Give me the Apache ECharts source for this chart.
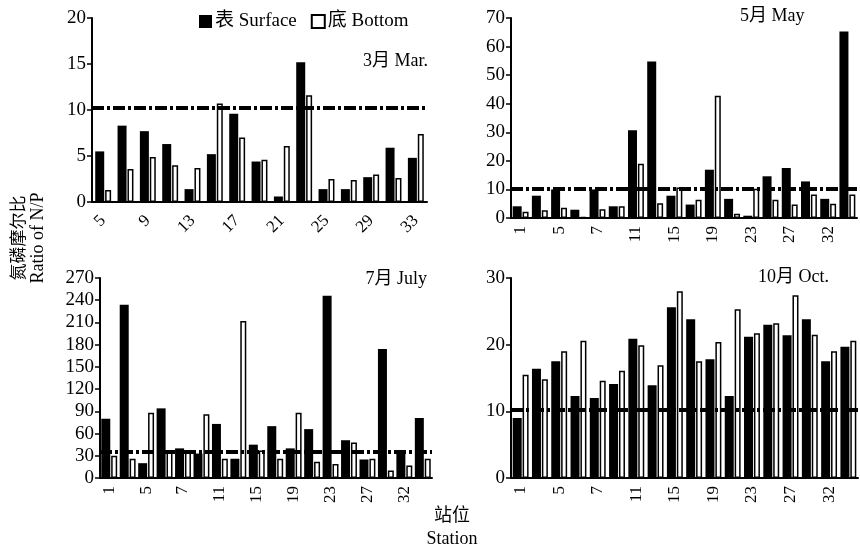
<!DOCTYPE html>
<html>
<head>
<meta charset="utf-8">
<script src="https://cdn.jsdelivr.net/npm/echarts@6/dist/echarts.min.js"></script>
<style>
  html, body { margin: 0; padding: 0; background: #fff; }
  #chart { width: 860px; height: 550px; }
</style>
</head>
<body>
<div id="chart"></div>
<script>
// station labels
const marStations = ['5', '7', '9', '11', '13', '15', '17', '19', '21', '23', '25', '27', '29', '31', '33'];
const stations = ['1', '3', '5', '6', '7', '9', '11', '13', '15', '17', '19', '21', '23', '25', '27', '29', '32', '33'];

// N/P ratio, surface and bottom
const marSurface = [5.5, 8.3, 7.7, 6.3, 1.4, 5.2, 9.6, 4.4, 0.6, 15.2, 1.4, 1.4, 2.7, 5.9, 4.8];
const marBottom = [1.3, 3.6, 4.9, 4.0, 3.7, 10.7, 7.0, 4.6, 6.1, 11.6, 2.5, 2.4, 3.0, 2.6, 7.4];
const maySurface = [4.1, 7.8, 10, 2.9, 10, 4.1, 30.7, 54.8, 7.8, 4.7, 16.9, 6.7, 0.8, 14.6, 17.5, 12.8, 6.7, 65.3];
const mayBottom = [2.2, 2.7, 3.6, 0.3, 3.1, 4.1, 19, 5.2, 10.7, 6.4, 42.8, 1.5, 10.2, 6.4, 4.7, 8.2, 5.0, 8.2];
const julSurface = [80, 234, 20, 94, 40, 33, 73, 26, 45, 70, 40, 66, 246, 51, 25, 174, 36, 81];
const julBottom = [30, 26, 88, 37, 36, 86, 26, 212, 37, 26, 88, 22, 19, 48, 26, 10, 17, 26];
const octSurface = [9.0, 16.4, 17.5, 12.3, 12.0, 14.1, 20.9, 13.9, 25.6, 23.8, 17.8, 12.3, 21.2, 23.0, 21.4, 23.8, 17.5, 19.7];
const octBottom = [15.5, 14.8, 19.0, 20.6, 14.6, 16.1, 19.9, 16.9, 28.0, 17.5, 20.4, 25.3, 21.7, 23.2, 27.4, 21.5, 19.0, 20.6];

// reference lines
const refLines = [10.2, 10.2, 35, 10.2];

const FONT = "'Liberation Serif', 'Noto Sans CJK SC', serif";

const chart = echarts.init(document.getElementById('chart'));

const grids = [
  { left: 92, top: 18, width: 335, height: 184 },
  { left: 511, top: 18, width: 346, height: 200 },
  { left: 100, top: 278, width: 332, height: 200 },
  { left: 511, top: 278, width: 347, height: 200 },
];

const yRanges = [
  { max: 20, interval: 5 },
  { max: 70, interval: 10 },
  { max: 270, interval: 30 },
  { max: 30, interval: 10 },
];

const xAxis = [marStations, stations, stations, stations].map((cats, i) => ({
  type: 'category',
  gridIndex: i,
  data: cats,
  axisLine: { lineStyle: { color: '#000', width: 2 } },
  axisTick: { inside: true, length: 5, interval: 0, lineStyle: { color: '#000', width: 1.5 } },
  axisLabel: {
    interval: 1,
    rotate: i === 0 ? 45 : 90,
    margin: i === 0 ? 16 : 8,
    color: '#000',
    fontFamily: FONT,
    fontSize: 17,
  },
}));

const yAxis = yRanges.map((r, i) => ({
  type: 'value',
  gridIndex: i,
  min: 0,
  max: r.max,
  interval: r.interval,
  splitLine: { show: false },
  axisLine: { show: true, lineStyle: { color: '#000', width: 2 } },
  axisTick: { show: true, length: 5, lineStyle: { color: '#000', width: 1.5 } },
  axisLabel: { color: '#000', fontFamily: FONT, fontSize: 19, margin: 6 },
}));

const surfaceData = [marSurface, maySurface, julSurface, octSurface];
const bottomData = [marBottom, mayBottom, julBottom, octBottom];

let series = [];
for (let i = 0; i < 4; i++) {
  series.push({
    name: '表 Surface',
    type: 'bar',
    xAxisIndex: i,
    yAxisIndex: i,
    data: surfaceData[i],
    barWidth: 9,
    barGap: '10%',
    itemStyle: { color: '#000' },
    markLine: {
      silent: true,
      symbol: 'none',
      label: { show: false },
      lineStyle: { color: '#000', width: 4, type: [12, 3, 3, 3] },
      data: [{ yAxis: refLines[i] }],
    },
  });
  series.push({
    name: '底 Bottom',
    type: 'bar',
    xAxisIndex: i,
    yAxisIndex: i,
    data: bottomData[i],
    barWidth: 6,
    itemStyle: { color: '#fff', borderColor: '#000', borderWidth: 1.5 },
  });
}

const titleStyle = { fill: '#000', font: '18px ' + FONT };

const option = {
  backgroundColor: '#fff',
  animation: false,
  grid: grids,
  xAxis: xAxis,
  yAxis: yAxis,
  legend: {
    left: 194,
    top: 7,
    itemWidth: 13,
    itemHeight: 13,
    itemGap: 14,
    icon: 'rect',
    data: ['表 Surface', '底 Bottom'],
    textStyle: { color: '#000', fontFamily: FONT, fontSize: 19, padding: [0, 0, 0, -2] },
  },
  graphic: [
    { type: 'text', right: 432, top: 52, style: Object.assign({ text: '3月 Mar.' }, titleStyle) },
    { type: 'text', left: 740, top: 7, style: Object.assign({ text: '5月 May' }, titleStyle) },
    { type: 'text', right: 433, top: 270, style: Object.assign({ text: '7月 July' }, titleStyle) },
    { type: 'text', left: 758, top: 268, style: Object.assign({ text: '10月 Oct.' }, titleStyle) },
    {
      type: 'text', x: 20, y: 238, rotation: Math.PI / 2,
      style: { text: '氮磷摩尔比', fill: '#000', font: '17px ' + FONT, align: 'center', verticalAlign: 'middle' },
    },
    {
      type: 'text', x: 38, y: 238, rotation: Math.PI / 2,
      style: { text: 'Ratio of N/P', fill: '#000', font: '18px ' + FONT, align: 'center', verticalAlign: 'middle' },
    },
    { type: 'text', x: 452, y: 516, style: { text: '站位', fill: '#000', font: '18px ' + FONT, align: 'center', verticalAlign: 'middle' } },
    { type: 'text', x: 452, y: 539, style: { text: 'Station', fill: '#000', font: '18px ' + FONT, align: 'center', verticalAlign: 'middle' } },
  ],
  series: series,
};

chart.setOption(option);
</script>
</body>
</html>
